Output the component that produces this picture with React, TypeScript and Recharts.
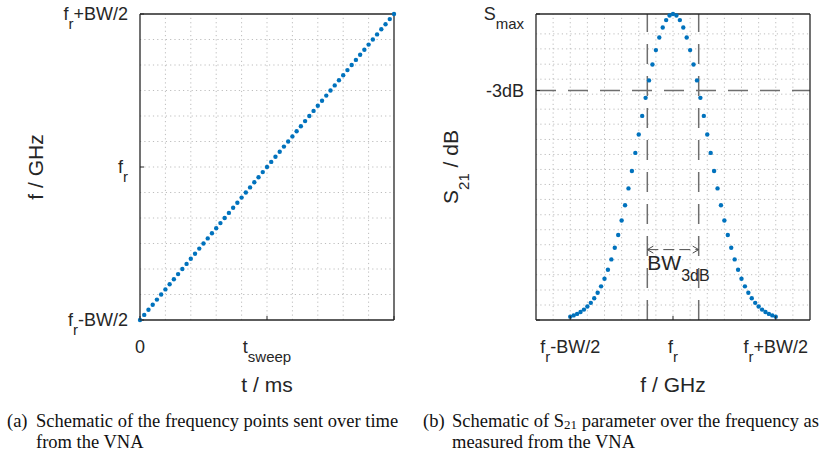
import React from "react"
import { ScatterChart, Scatter, XAxis, YAxis, ReferenceLine } from "recharts"

// sample number of each frequency point sent by the VNA
const SAMPLES = [
  0, 1, 2, 3, 4, 5, 6, 7, 8, 9, 10, 11, 12, 13, 14, 15, 16, 17, 18, 19, 20,
  21, 22, 23, 24, 25, 26, 27, 28, 29, 30, 31, 32, 33, 34, 35, 36, 37, 38, 39, 40,
  41, 42, 43, 44, 45, 46, 47, 48, 49, 50, 51, 52, 53, 54, 55, 56, 57, 58, 59, 60,
]
// frequency offset from f_r, in grid units (±6 = ±BW/2)
const FREQS = [
  -6.0, -5.8, -5.6, -5.4, -5.2, -5.0, -4.8, -4.6, -4.4, -4.2, -4.0,
  -3.8, -3.6, -3.4, -3.2, -3.0, -2.8, -2.6, -2.4, -2.2, -2.0,
  -1.8, -1.6, -1.4, -1.2, -1.0, -0.8, -0.6, -0.4, -0.2, 0.0,
  0.2, 0.4, 0.6, 0.8, 1.0, 1.2, 1.4, 1.6, 1.8, 2.0,
  2.2, 2.4, 2.6, 2.8, 3.0, 3.2, 3.4, 3.6, 3.8, 4.0,
  4.2, 4.4, 4.6, 4.8, 5.0, 5.2, 5.4, 5.6, 5.8, 6.0,
]
// S21 relative to S_max (1 = top, 0 = bottom of axis)
const S21 = [
  0.011, 0.015, 0.020, 0.026, 0.034, 0.044, 0.056, 0.071, 0.089, 0.110, 0.135,
  0.164, 0.198, 0.236, 0.278, 0.325, 0.375, 0.430, 0.487, 0.546, 0.606,
  0.667, 0.726, 0.783, 0.835, 0.882, 0.923, 0.956, 0.980, 0.995, 1.000,
  0.995, 0.980, 0.956, 0.923, 0.882, 0.835, 0.783, 0.726, 0.667, 0.606,
  0.546, 0.487, 0.430, 0.375, 0.325, 0.278, 0.236, 0.198, 0.164, 0.135,
  0.110, 0.089, 0.071, 0.056, 0.044, 0.034, 0.026, 0.020, 0.015, 0.011,
]

const LEFT_X_TICKS = [0, 30, 60]
const LEFT_Y_TICKS = [-6, 0, 6]
const RIGHT_X_TICKS = [-6, 0, 6]
const RIGHT_Y_TICKS = [0, 0.75, 1]

const LEFT_GRID_X = [6, 12, 18, 24, 30, 36, 42, 48, 54]
const LEFT_GRID_Y = [-5, -4, -3, -2, -1, 0, 1, 2, 3, 4, 5]
const RIGHT_GRID_X = [-7, -6, -5, -4, -3, -2, -1, 0, 1, 2, 3, 4, 5, 6, 7]
const RIGHT_GRID_Y = [
  0.049, 0.098, 0.148, 0.197, 0.246, 0.295, 0.344, 0.394, 0.443, 0.492,
  0.541, 0.59, 0.64, 0.689, 0.738, 0.787, 0.836, 0.886, 0.935,
]

const HALF_POWER_F = [-1.5, 1.5]
const HALF_POWER_S = 0.75
const ARROW_S = 0.23

type Lbl = { base: string; sub?: string; tail?: string }

const SWEEP_LABELS: Record<string, Lbl> = {
  "0": { base: "0" },
  "30": { base: "t", sub: "sweep" },
}
const FREQ_LABELS: Record<string, Lbl> = {
  "-6": { base: "f", sub: "r", tail: "-BW/2" },
  "0": { base: "f", sub: "r" },
  "6": { base: "f", sub: "r", tail: "+BW/2" },
}
const S21_LABELS: Record<string, Lbl> = {
  "0.75": { base: "-3dB" },
  "1": { base: "S", sub: "max" },
}

const INK = "#262626"
const BLUE = "#0072BD"
const SANS = "'Liberation Sans', Arial, Helvetica, sans-serif"
const SERIF = "'Liberation Serif', 'Times New Roman', serif"
const TICK_LEN = 4
const AXIS_LINE = { stroke: INK, strokeWidth: 1.3 }
const GRID = { stroke: "#bdbdbd", strokeWidth: 1, strokeDasharray: "1.2 3.1" }
const DASHED = { stroke: "#6e6e6e", strokeWidth: 1.5, strokeDasharray: "20 12" }

function TexText({ x, y, anchor, label, size = 18, subSize = 15, shift = 9 }: any) {
  const l: Lbl = label
  return (
    <text x={x} y={y} textAnchor={anchor} fontFamily={SANS} fontSize={size} fill={INK}>
      <tspan>{l.base}</tspan>
      {l.sub && (
        <tspan dy={shift} fontSize={subSize}>
          {l.sub}
        </tspan>
      )}
      {l.tail && <tspan dy={-shift}>{l.tail}</tspan>}
    </text>
  )
}

const bottomTick = (labels: Record<string, Lbl>) => (props: any) => {
  const { x, y, payload } = props
  const lbl = labels[String(payload.value)]
  return (
    <g>
      <line x1={x} y1={y} x2={x} y2={y - TICK_LEN} stroke={INK} />
      {lbl && <TexText x={x} y={y + 33} anchor="middle" label={lbl} />}
    </g>
  )
}
const leftTick = (labels: Record<string, Lbl>) => (props: any) => {
  const { x, y, payload } = props
  const lbl = labels[String(payload.value)]
  return (
    <g>
      <line x1={x} y1={y} x2={x + TICK_LEN} y2={y} stroke={INK} />
      {lbl && <TexText x={x - 12} y={y + 6} anchor="end" label={lbl} />}
    </g>
  )
}
const topTick = (props: any) => (
  <line x1={props.x} y1={props.y} x2={props.x} y2={props.y + TICK_LEN} stroke={INK} />
)
const rightTick = (props: any) => (
  <line x1={props.x} y1={props.y} x2={props.x - TICK_LEN} y2={props.y} stroke={INK} />
)

const dot = (props: any) => <circle cx={props.cx} cy={props.cy} r={2.2} fill={BLUE} />

const bwArrow = (props: any) => {
  const { x1, y1, x2 } = props
  const a = Math.min(x1, x2)
  const b = Math.max(x1, x2)
  return (
    <g>
      <line x1={a} y1={y1} x2={b} y2={y1} stroke="#4d4d4d" strokeWidth={1} strokeDasharray="11 5" />
      <polyline points={`${a + 6},${y1 - 3.5} ${a},${y1} ${a + 6},${y1 + 3.5}`} fill="none" stroke="#4d4d4d" />
      <polyline points={`${b - 6},${y1 - 3.5} ${b},${y1} ${b - 6},${y1 + 3.5}`} fill="none" stroke="#4d4d4d" />
      <TexText x={a} y={y1 + 20} anchor="start" label={{ base: "BW", sub: "3dB" }} size={21} subSize={16} shift={11} />
    </g>
  )
}

const sweepData = SAMPLES.map((t, i) => ({ t, f: FREQS[i] }))
const s21Data = FREQS.map((f, i) => ({ f, s: S21[i] }))

function SweepChart() {
  return (
    <ScatterChart width={420} height={400} margin={{ top: 13, right: 25, bottom: 0, left: 40 }}>
      <XAxis xAxisId="b" dataKey="t" type="number" domain={[0, 60]} ticks={LEFT_X_TICKS} interval={0}
        tickSize={0} tickMargin={0} height={80} axisLine={AXIS_LINE} tick={bottomTick(SWEEP_LABELS)} />
      <XAxis xAxisId="t" orientation="top" dataKey="t" type="number" domain={[0, 60]} ticks={LEFT_X_TICKS}
        interval={0} tickSize={0} tickMargin={0} height={1} axisLine={AXIS_LINE} tick={topTick} />
      <YAxis yAxisId="l" dataKey="f" type="number" domain={[-6, 6]} ticks={LEFT_Y_TICKS} interval={0}
        tickSize={0} tickMargin={0} width={100} axisLine={AXIS_LINE} tick={leftTick(FREQ_LABELS)} />
      <YAxis yAxisId="r" orientation="right" dataKey="f" type="number" domain={[-6, 6]} ticks={LEFT_Y_TICKS}
        interval={0} tickSize={0} tickMargin={0} width={1} axisLine={AXIS_LINE} tick={rightTick} />
      {LEFT_GRID_X.map((v) => (
        <ReferenceLine key={`gx${v}`} xAxisId="b" yAxisId="l" x={v} {...GRID} />
      ))}
      {LEFT_GRID_Y.map((v) => (
        <ReferenceLine key={`gy${v}`} xAxisId="b" yAxisId="l" y={v} {...GRID} />
      ))}
      <Scatter xAxisId="b" yAxisId="l" data={sweepData} shape={dot} isAnimationActive={false} />
    </ScatterChart>
  )
}

function S21Chart() {
  return (
    <ScatterChart width={407} height={400} margin={{ top: 13, right: 16, bottom: 0, left: 16 }}>
      <XAxis xAxisId="b" dataKey="f" type="number" domain={[-8, 8]} ticks={RIGHT_X_TICKS} interval={0}
        tickSize={0} tickMargin={0} height={80} axisLine={AXIS_LINE} tick={bottomTick(FREQ_LABELS)} />
      <XAxis xAxisId="t" orientation="top" dataKey="f" type="number" domain={[-8, 8]} ticks={RIGHT_X_TICKS}
        interval={0} tickSize={0} tickMargin={0} height={1} axisLine={AXIS_LINE} tick={topTick} />
      <YAxis yAxisId="l" dataKey="s" type="number" domain={[0, 1]} ticks={RIGHT_Y_TICKS} interval={0}
        tickSize={0} tickMargin={0} width={100} axisLine={AXIS_LINE} tick={leftTick(S21_LABELS)} />
      <YAxis yAxisId="r" orientation="right" dataKey="s" type="number" domain={[0, 1]} ticks={RIGHT_Y_TICKS}
        interval={0} tickSize={0} tickMargin={0} width={1} axisLine={AXIS_LINE} tick={rightTick} />
      {RIGHT_GRID_X.map((v) => (
        <ReferenceLine key={`gx${v}`} xAxisId="b" yAxisId="l" x={v} {...GRID} />
      ))}
      {RIGHT_GRID_Y.map((v) => (
        <ReferenceLine key={`gy${v}`} xAxisId="b" yAxisId="l" y={v} {...GRID} />
      ))}
      {HALF_POWER_F.map((v) => (
        <ReferenceLine key={`hp${v}`} xAxisId="b" yAxisId="l" x={v} {...DASHED} />
      ))}
      <ReferenceLine xAxisId="b" yAxisId="l" y={HALF_POWER_S} {...DASHED} />
      <ReferenceLine xAxisId="b" yAxisId="l"
        segment={[{ x: HALF_POWER_F[0], y: ARROW_S }, { x: HALF_POWER_F[1], y: ARROW_S }]}
        shape={bwArrow} />
      <Scatter xAxisId="b" yAxisId="l" data={s21Data} shape={dot} isAnimationActive={false} />
    </ScatterChart>
  )
}

export default function App() {
  return (
    <div style={{ position: "absolute", left: 0, top: 0, width: 827, height: 451, background: "#fff", overflow: "hidden" }}>
      <div style={{ position: "absolute", left: 0, top: 0 }}>
        <SweepChart />
      </div>
      <div style={{ position: "absolute", left: 420, top: 0 }}>
        <S21Chart />
      </div>
      <svg width={827} height={451} style={{ position: "absolute", left: 0, top: 0, pointerEvents: "none" }}>
        <g fontFamily={SANS} fontSize={21} fill={INK}>
          <text transform="translate(43,167) rotate(-90)" textAnchor="middle">f / GHz</text>
          <text x={267} y={392} textAnchor="middle">t / ms</text>
          <text transform="translate(458,167) rotate(-90)" textAnchor="middle">
            S<tspan dy={11} fontSize={15}>21</tspan>
            <tspan dy={-11}>{"  / dB"}</tspan>
          </text>
          <text x={673} y={392} textAnchor="middle">f / GHz</text>
        </g>
        <g fontFamily={SERIF} fontSize={18.5} fill="#111">
          <text x={7} y={427}>(a)</text>
          <text x={36} y={427}>Schematic of the frequency points sent over time</text>
          <text x={36} y={447.5}>from the VNA</text>
          <text x={423} y={427}>(b)</text>
          <text x={452} y={427}>
            Schematic of S<tspan dy={2} fontSize={13}>21</tspan>
            <tspan dy={-2}> parameter over the frequency as</tspan>
          </text>
          <text x={452} y={447.5}>measured from the VNA</text>
        </g>
      </svg>
    </div>
  )
}
